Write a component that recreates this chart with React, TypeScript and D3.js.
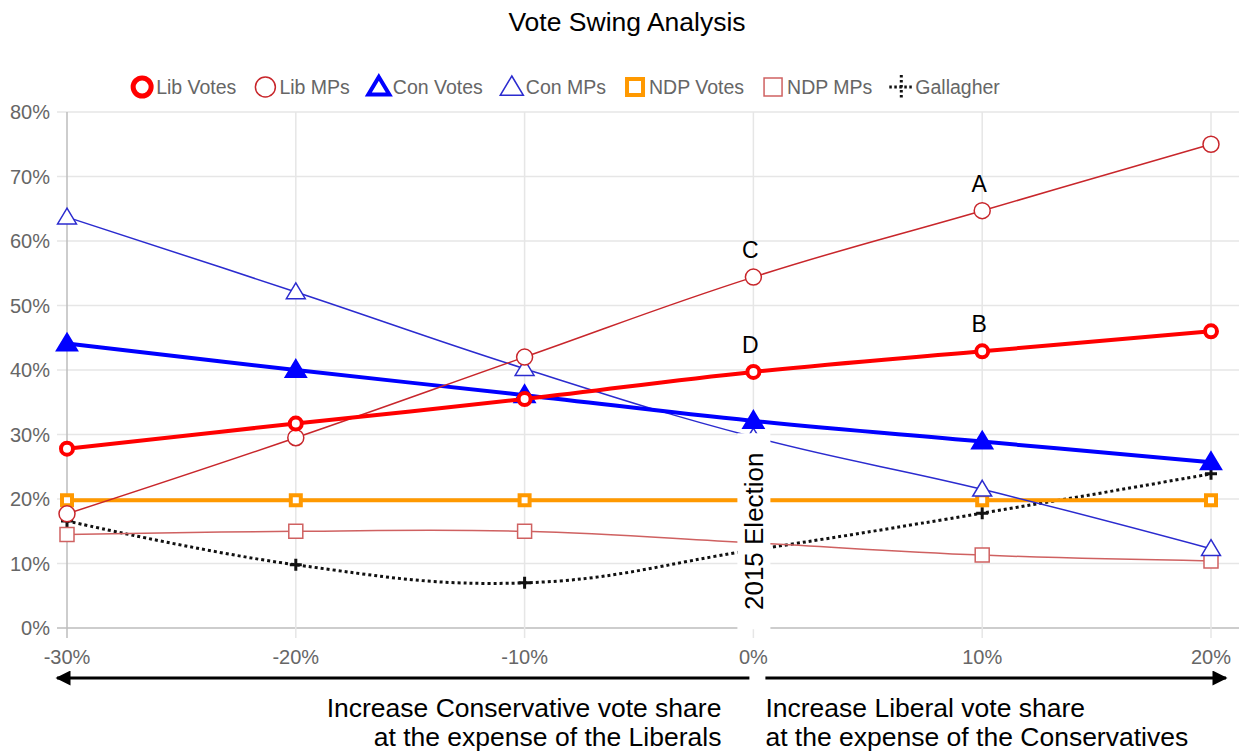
// @ts-nocheck
import React, { useEffect, useRef } from 'react';
import * as d3 from 'd3';

// swing steps on the x axis (percent)
const swings = [-30, -20, -10, 0, 10, 20];
const yTicks = [0, 10, 20, 30, 40, 50, 60, 70, 80];

const libVotes = [27.8, 31.7, 35.5, 39.7, 42.9, 46.0];
const libMPs = [17.7, 29.5, 42.0, 54.4, 64.7, 75.0];
const conVotes = [44.1, 40.0, 36.1, 32.1, 28.9, 25.7];
const conMPs = [63.7, 52.1, 40.2, 29.6, 21.5, 12.3];
const ndpVotes = [19.8, 19.8, 19.8, 19.8, 19.8, 19.8];
const ndpMPs = [14.5, 15.0, 15.0, 13.2, 11.3, 10.4];
const gallagher = [16.6, 9.8, 7.0, 12.1, 17.8, 23.9];

const seriesNames = ['Lib Votes', 'Lib MPs', 'Con Votes', 'Con MPs', 'NDP Votes', 'NDP MPs', 'Gallagher'];

// annotations: label, swing index, series
const notes = [
  { label: 'A', i: 4, values: libMPs },
  { label: 'B', i: 4, values: libVotes },
  { label: 'C', i: 3, values: libMPs },
  { label: 'D', i: 3, values: libVotes },
];

const FONT = '"Liberation Sans", Arial, Helvetica, sans-serif';

const App = () => {
  const ref = useRef(null);

  useEffect(() => {
    const W = 1239;
    const svg = d3.select(ref.current);
    svg.selectAll('*').remove();

    const x = d3.scaleLinear().domain([-30, 20]).range([67, 1211]);
    const y = d3.scaleLinear().domain([0, 80]).range([628, 112]);

    const styles = [
      { values: libVotes, color: '#ff0000', width: 4, shape: 'circle', r: 6, pw: 4, lr: 9, lw: 5 },
      { values: libMPs, color: '#c8262b', width: 1.5, shape: 'circle', r: 8, pw: 1.5, lr: 10, lw: 1.5 },
      { values: conVotes, color: '#0000ff', width: 4, shape: 'triangle', r: 8, pw: 4, lr: 10, lw: 4 },
      { values: conMPs, color: '#2b2bcf', width: 1.5, shape: 'triangle', r: 9, pw: 1.5, lr: 11, lw: 1.5 },
      { values: ndpVotes, color: '#ff9900', width: 4, shape: 'square', r: 5, pw: 4, lr: 8, lw: 4 },
      { values: ndpMPs, color: '#cf6161', width: 1.5, shape: 'square', r: 7, pw: 1.5, lr: 9, lw: 1.5 },
      { values: gallagher, color: '#111111', width: 3, shape: 'cross', r: 6, pw: 3, lr: 12, lw: 3, dash: '3,3' },
    ];

    // title
    svg.append('text')
      .attr('x', 627).attr('y', 31)
      .attr('text-anchor', 'middle')
      .style('font', `26.5px ${FONT}`)
      .style('fill', '#000')
      .text('Vote Swing Analysis');

    // grid
    const grid = svg.append('g');
    grid.selectAll('.hg').data(yTicks).enter().append('line')
      .attr('x1', 57).attr('x2', W)
      .attr('y1', (d) => y(d)).attr('y2', (d) => y(d))
      .attr('stroke', (d) => (d === 0 ? '#bdbdbd' : '#e6e6e6'))
      .attr('stroke-width', 1.5);
    grid.selectAll('.vg').data(swings).enter().append('line')
      .attr('x1', (d) => x(d)).attr('x2', (d) => x(d))
      .attr('y1', 112).attr('y2', 638)
      .attr('stroke', (d) => (d === -30 ? '#bdbdbd' : '#e6e6e6'))
      .attr('stroke-width', 1.5);

    // tick labels
    svg.append('g').selectAll('text').data(yTicks).enter().append('text')
      .attr('x', 50).attr('y', (d) => y(d) + 7)
      .attr('text-anchor', 'end')
      .style('font', `20px ${FONT}`).style('fill', '#666')
      .text((d) => `${d}%`);
    svg.append('g').selectAll('text').data(swings).enter().append('text')
      .attr('x', (d) => x(d)).attr('y', 664)
      .attr('text-anchor', 'middle')
      .style('font', `20px ${FONT}`).style('fill', '#666')
      .text((d) => `${d}%`);

    const symbolPath = (shape, r) => {
      if (shape === 'circle') return d3.symbol(d3.symbolCircle, Math.PI * r * r)();
      if (shape === 'square') return `M${-r},${-r}H${r}V${r}H${-r}Z`;
      if (shape === 'triangle') return `M0,${-r}L${r * 1.05},${r * 0.75}L${-r * 1.05},${r * 0.75}Z`;
      return `M${-r},0H${r}M0,${-r}V${r}`;
    };

    const line = d3.line()
      .x((d, i) => x(swings[i]))
      .y((d) => y(d))
      .curve(d3.curveCardinal.tension(-0.2));

    // draw last series first so Lib Votes ends on top
    const plot = svg.append('g');
    styles.slice().reverse().forEach((s) => {
      const g = plot.append('g');
      g.append('path')
        .attr('d', line(s.values))
        .attr('fill', 'none')
        .attr('stroke', s.color)
        .attr('stroke-width', s.width)
        .attr('stroke-dasharray', s.dash || null);
      g.selectAll('path.pt').data(s.values).enter().append('path')
        .attr('class', 'pt')
        .attr('transform', (d, i) => `translate(${x(swings[i])},${y(d)})`)
        .attr('d', symbolPath(s.shape, s.r))
        .attr('fill', s.shape === 'cross' ? 'none' : (s.shape === 'triangle' && s.width > 2 ? s.color : '#fff'))
        .attr('stroke', s.color)
        .attr('stroke-width', s.pw);
    });

    // 2015 Election label with white backing
    const ex = x(0);
    const ey = y(15);
    const lab = svg.append('g').attr('transform', `translate(${ex + 10},${ey}) rotate(-90)`);
    lab.append('rect')
      .attr('x', -98).attr('y', -26).attr('width', 196).attr('height', 33)
      .attr('fill', '#fff');
    lab.append('text')
      .attr('x', 0).attr('y', 0)
      .attr('text-anchor', 'middle')
      .style('font', `26px ${FONT}`).style('fill', '#000')
      .text('2015 Election');

    // A B C D annotations
    svg.append('g').selectAll('text').data(notes).enter().append('text')
      .attr('x', (d) => x(swings[d.i]) - 3)
      .attr('y', (d) => y(d.values[d.i]) - 19)
      .attr('text-anchor', 'middle')
      .style('font', `23px ${FONT}`).style('fill', '#000')
      .text((d) => d.label);

    // legend
    const leg = svg.append('g');
    let lx = 0;
    const items = [];
    seriesNames.forEach((name, k) => {
      const s = styles[k];
      const it = leg.append('g');
      if (s.shape === 'cross') {
        it.append('path').attr('d', symbolPath('cross', s.lr))
          .attr('fill', 'none').attr('stroke', s.color).attr('stroke-width', s.lw)
          .attr('stroke-dasharray', '2.5,2.5');
      } else {
        it.append('path').attr('d', symbolPath(s.shape, s.lr))
          .attr('fill', '#fff')
          .attr('stroke', s.color).attr('stroke-width', s.lw);
      }
      const t = it.append('text')
        .attr('x', 14).attr('y', 7)
        .style('font', `19.5px ${FONT}`).style('fill', '#666')
        .text(name);
      const tw = t.node().getComputedTextLength();
      items.push({ it, x: lx });
      lx += 14 + tw + 29;
    });
    const total = lx - 29 + 12;
    const start = 565 - total / 2 + 12;
    items.forEach((d) => d.it.attr('transform', `translate(${start + d.x},87)`));

    // bottom arrows
    const defs = svg.append('defs');
    defs.append('marker')
      .attr('id', 'ah').attr('viewBox', '0 0 10 10')
      .attr('refX', 9).attr('refY', 5)
      .attr('markerWidth', 6).attr('markerHeight', 5)
      .attr('markerUnits', 'strokeWidth')
      .attr('orient', 'auto')
      .append('path').attr('d', 'M0,0L10,5L0,10Z').attr('fill', '#000');
    svg.append('line')
      .attr('x1', x(0) - 4).attr('x2', x(-30) - 10)
      .attr('y1', 678).attr('y2', 678)
      .attr('stroke', '#000').attr('stroke-width', 3)
      .attr('marker-end', 'url(#ah)');
    svg.append('line')
      .attr('x1', x(0) + 12).attr('x2', x(20) + 15)
      .attr('y1', 678).attr('y2', 678)
      .attr('stroke', '#000').attr('stroke-width', 3)
      .attr('marker-end', 'url(#ah)');

    const leftLines = ['Increase Conservative vote share', 'at the expense of the Liberals'];
    const rightLines = ['Increase Liberal vote share', 'at the expense of the Conservatives'];
    svg.append('g').selectAll('text').data(leftLines).enter().append('text')
      .attr('x', x(0) - 32).attr('y', (d, i) => 717 + i * 29)
      .attr('text-anchor', 'end')
      .style('font', `26.5px ${FONT}`).style('fill', '#000')
      .text((d) => d);
    svg.append('g').selectAll('text').data(rightLines).enter().append('text')
      .attr('x', x(0) + 12).attr('y', (d, i) => 717 + i * 29)
      .attr('text-anchor', 'start')
      .style('font', `26.5px ${FONT}`).style('fill', '#000')
      .text((d) => d);
  }, []);

  return (
    <svg
      ref={ref}
      width={1239}
      height={752}
      style={{ position: 'absolute', left: 0, top: 0, background: '#fff' }}
    />
  );
};

export default App;
